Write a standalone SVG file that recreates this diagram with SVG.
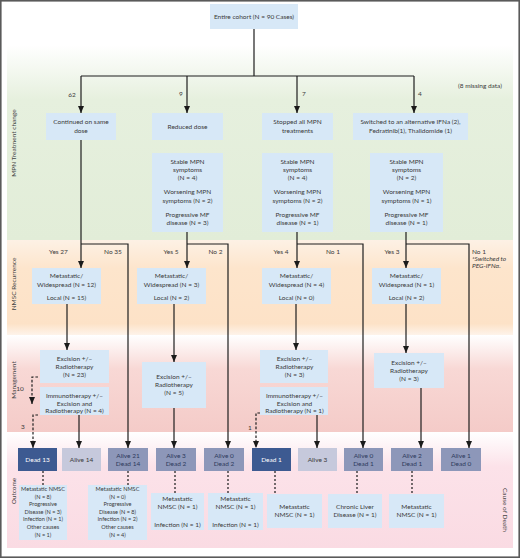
<svg xmlns="http://www.w3.org/2000/svg" width="520" height="558" viewBox="0 0 520 558">
<defs>
<style>
.n{fill:#d7e8f7}
.t{font-family:Lato,"Liberation Sans",sans-serif;font-size:6.5px;fill:#3a3a3a;text-anchor:middle}
.s{font-size:5.6px}
.w{fill:#ffffff}
.k{fill:#2e3a5c}
.lb{font-family:Lato,"Liberation Sans",sans-serif;font-size:6.5px;fill:#444;text-anchor:middle}
.l{fill:none;stroke:#1e1e1e;stroke-width:1.2}
.a{marker-end:url(#ar)}
.d{stroke-dasharray:2.6 1.8}
.o{fill:none;stroke:#2a2a2a;stroke-width:1.3;stroke-dasharray:2 2}
.dk{fill:#3d5a91}
.lt{fill:#c6c9dc}
.md{fill:#8d97b9}
</style>
<marker id="ar" viewBox="0 0 7 6" refX="7" refY="3" markerWidth="7" markerHeight="6" orient="auto" markerUnits="userSpaceOnUse"><path d="M0,0 L7,3 L0,6 z" fill="#1a1a1a"/></marker>
<linearGradient id="gG" x1="0" y1="0" x2="0" y2="1"><stop offset="0" stop-color="#ffffff"/><stop offset="0.28" stop-color="#e6f0de"/><stop offset="1" stop-color="#e2edd8"/></linearGradient>
<linearGradient id="gO" x1="0" y1="0" x2="0" y2="1"><stop offset="0" stop-color="#fdf1e5"/><stop offset="0.3" stop-color="#fde5cc"/><stop offset="0.88" stop-color="#fde2c7"/><stop offset="1" stop-color="#fef3ea"/></linearGradient>
<linearGradient id="gM" x1="0" y1="0" x2="0" y2="1"><stop offset="0" stop-color="#ffffff"/><stop offset="0.35" stop-color="#f8d8d5"/><stop offset="1" stop-color="#f4cbc8"/></linearGradient>
<linearGradient id="gC" x1="0" y1="0" x2="0" y2="1"><stop offset="0" stop-color="#ffffff"/><stop offset="0.3" stop-color="#fce2e9"/><stop offset="1" stop-color="#fadbe3"/></linearGradient>
</defs>
<rect x="0" y="0" width="520" height="558" fill="#ffffff"/>
<g id="bands">
<rect x="7" y="45" width="506" height="195" fill="url(#gG)"/>
<rect x="7" y="240" width="506" height="95" fill="url(#gO)"/>
<rect x="7" y="335" width="506" height="97" fill="url(#gM)"/>
<rect x="7" y="432" width="506" height="116" fill="url(#gC)"/>
<rect x="0.8" y="0.8" width="518.4" height="556.4" fill="none" stroke="#5a5a5a" stroke-width="1.6"/>
</g>
<g id="side-labels">
<text class="lb" transform="translate(15.5,143) rotate(-90)">MPN Treatment change</text>
<text class="lb" transform="translate(15.5,284) rotate(-90)">NMSC Recurrence</text>
<text class="lb" transform="translate(15.5,380) rotate(-90)">Management</text>
<text class="lb" transform="translate(15.5,491) rotate(-90)">Outcome</text>
<text class="lb" transform="translate(502.5,510) rotate(90)">Cause of Death</text>
</g>
<g id="connectors">
<path class="l" d="M254,29 V76 M81,76 H414"/>
<path class="l a" d="M81,76 V113"/>
<path class="l a" d="M187,76 V113"/>
<path class="l a" d="M297,76 V113"/>
<path class="l a" d="M414,76 V113"/>
<path class="l a" d="M81,140 V268"/>
<path class="l a" d="M81,244 H128 V448"/>
<path class="l a" d="M187,232 V268"/>
<path class="l a" d="M187,244 H228 V448"/>
<path class="l a" d="M297,232 V268"/>
<path class="l a" d="M297,244 H363 V448"/>
<path class="l a" d="M406,232 V268"/>
<path class="l a" d="M406,244 H469 V448"/>
<path class="l a" d="M67,304 V350"/>
<path class="l a" d="M174,304 V362"/>
<path class="l a" d="M296,304 V350"/>
<path class="l a" d="M406,304 V353"/>
<path class="l a" d="M79,415 V448"/>
<path class="l a" d="M174,408 V448"/>
<path class="l a" d="M317,415 V448"/>
<path class="l a" d="M421,388 V448"/>
<path class="l a d" d="M38,377 H32 V404"/>
<path class="l a d" d="M38,415 H33 V448"/>
<path class="l a d" d="M260,413 H256 V448"/>
<path class="o" d="M43,471 V485 M128,471 V485 M175,471 V493 M228,471 V493 M275,471 V494 M357,471 V494 M412,471 V494"/>
<text class="t" x="72" y="97">62</text>
<text class="t" x="181" y="96">9</text>
<text class="t" x="304" y="96">7</text>
<text class="t" x="420" y="96">4</text>
<text class="t" x="480" y="88">(8 missing data)</text>
<text class="t" x="58.5" y="254">Yes 27</text>
<text class="t" x="113" y="254">No 35</text>
<text class="t" x="171" y="254">Yes 5</text>
<text class="t" x="215.5" y="254">No 2</text>
<text class="t" x="281" y="254">Yes 4</text>
<text class="t" x="333" y="254">No 1</text>
<text class="t" x="392" y="254">Yes 3</text>
<text class="t" x="472" y="254" style="text-anchor:start">No 1</text>
<text class="t" x="472" y="261" style="text-anchor:start;font-style:italic">*Switched to</text>
<text class="t" x="472" y="268" style="text-anchor:start;font-style:italic">PEG-IFNα.</text>
<text class="t" x="20" y="391">10</text>
<text class="t" x="23" y="428.5">3</text>
<text class="t" x="250" y="430">1</text>
</g>
<g id="cohort"><rect class="n" x="210" y="4" width="88" height="25"/><text class="t" x="254" y="19">Entire cohort (N = 90 Cases)</text></g>
<g id="continued"><rect class="n" x="46" y="113" width="70" height="27"/><text class="t" x="81" y="124">Continued on same</text><text class="t" x="81" y="132.5">dose</text></g>
<g id="reduced"><rect class="n" x="152" y="113" width="71" height="27"/><text class="t" x="187.5" y="129">Reduced dose</text></g>
<g id="stopped"><rect class="n" x="262" y="113" width="71" height="27"/><text class="t" x="297.5" y="124">Stopped all MPN</text><text class="t" x="297.5" y="132.5">treatments</text></g>
<g id="switched"><rect class="n" x="353" y="113" width="115" height="27"/><text class="t" x="410.5" y="124">Switched to an alternative IFNa (2),</text><text class="t" x="410.5" y="132.5">Fedratinib(1), Thalidomide (1)</text></g>
<g id="reduced-status"><rect class="n" x="152" y="153" width="71" height="79"/>
<text class="t" x="187.5" y="164">Stable MPN</text><text class="t" x="187.5" y="172">symptoms</text><text class="t" x="187.5" y="180">(N = 4)</text>
<text class="t" x="187.5" y="194">Worsening MPN</text><text class="t" x="187.5" y="202.5">symptoms (N = 2)</text>
<text class="t" x="187.5" y="216.5">Progressive MF</text><text class="t" x="187.5" y="225">disease (N = 3)</text></g>
<g id="stopped-status"><rect class="n" x="262" y="153" width="71" height="79"/>
<text class="t" x="297.5" y="164">Stable MPN</text><text class="t" x="297.5" y="172">symptoms</text><text class="t" x="297.5" y="180">(N = 4)</text>
<text class="t" x="297.5" y="194">Worsening MPN</text><text class="t" x="297.5" y="202.5">symptoms (N = 2)</text>
<text class="t" x="297.5" y="216.5">Progressive MF</text><text class="t" x="297.5" y="225">disease (N = 1)</text></g>
<g id="switched-status"><rect class="n" x="370" y="153" width="73" height="79"/>
<text class="t" x="406.5" y="164">Stable MPN</text><text class="t" x="406.5" y="172">symptoms</text><text class="t" x="406.5" y="180">(N = 2)</text>
<text class="t" x="406.5" y="194">Worsening MPN</text><text class="t" x="406.5" y="202.5">symptoms (N = 1)</text>
<text class="t" x="406.5" y="216.5">Progressive MF</text><text class="t" x="406.5" y="225">disease (N = 1)</text></g>
<g id="nmsc1"><rect class="n" x="32" y="268" width="69" height="36"/><text class="t" x="66.5" y="278">Metastatic/</text><text class="t" x="66.5" y="287">Widespread (N = 12)</text><text class="t" x="66.5" y="300">Local (N = 15)</text></g>
<g id="nmsc2"><rect class="n" x="137" y="268" width="69" height="36"/><text class="t" x="171.5" y="278">Metastatic/</text><text class="t" x="171.5" y="287">Widespread (N = 3)</text><text class="t" x="171.5" y="300">Local (N = 2)</text></g>
<g id="nmsc3"><rect class="n" x="262" y="268" width="69" height="36"/><text class="t" x="296.5" y="278">Metastatic/</text><text class="t" x="296.5" y="287">Widespread (N = 4)</text><text class="t" x="296.5" y="300">Local (N = 0)</text></g>
<g id="nmsc4"><rect class="n" x="372" y="268" width="69" height="36"/><text class="t" x="406.5" y="278">Metastatic/</text><text class="t" x="406.5" y="287">Widespread (N = 1)</text><text class="t" x="406.5" y="300">Local (N = 2)</text></g>
<g id="exc1"><rect class="n" x="40" y="350" width="69" height="33"/><text class="t" x="74.5" y="361">Excision +/–</text><text class="t" x="74.5" y="369">Radiotherapy</text><text class="t" x="74.5" y="377">(N = 23)</text></g>
<g id="imm1"><rect class="n" x="40" y="387" width="69" height="28"/><text class="t" x="74.5" y="398">Immunotherapy +/–</text><text class="t" x="74.5" y="405.5">Excision and</text><text class="t" x="74.5" y="413">Radiotherapy (N = 4)</text></g>
<g id="exc2"><rect class="n" x="142" y="362" width="64" height="46"/><text class="t" x="174" y="379">Excision +/–</text><text class="t" x="174" y="387">Radiotherapy</text><text class="t" x="174" y="395">(N = 5)</text></g>
<g id="exc3"><rect class="n" x="260" y="350" width="68" height="33"/><text class="t" x="294.5" y="361">Excision +/–</text><text class="t" x="294.5" y="369">Radiotherapy</text><text class="t" x="294.5" y="377">(N = 3)</text></g>
<g id="imm3"><rect class="n" x="260" y="387" width="68" height="28"/><text class="t" x="294.5" y="398">Immunotherapy +/–</text><text class="t" x="294.5" y="405.5">Excision and</text><text class="t" x="294.5" y="413">Radiotherapy (N = 1)</text></g>
<g id="exc4"><rect class="n" x="374" y="353" width="70" height="35"/><text class="t" x="409" y="365">Excision +/–</text><text class="t" x="409" y="372.5">Radiotherapy</text><text class="t" x="409" y="380.5">(N = 3)</text></g>
<g id="o1"><rect class="dk" x="18" y="448" width="39" height="23"/><text class="t w" x="37.5" y="461.5">Dead 13</text></g>
<g id="o2"><rect class="lt" x="62" y="448" width="39" height="23"/><text class="t" x="81.5" y="461.5">Alive 14</text></g>
<g id="o3"><rect class="md" x="108" y="448" width="40" height="23"/><text class="t k" x="128" y="457.5">Alive 21</text><text class="t k" x="128" y="465.5">Dead 14</text></g>
<g id="o4"><rect class="md" x="156" y="448" width="40" height="23"/><text class="t k" x="176" y="457.5">Alive 3</text><text class="t k" x="176" y="465.5">Dead 2</text></g>
<g id="o5"><rect class="md" x="204" y="448" width="40" height="23"/><text class="t k" x="224" y="457.5">Alive 0</text><text class="t k" x="224" y="465.5">Dead 2</text></g>
<g id="o6"><rect class="dk" x="252" y="448" width="39" height="23"/><text class="t w" x="271.5" y="461.5">Dead 1</text></g>
<g id="o7"><rect class="lt" x="298" y="448" width="39" height="23"/><text class="t" x="317.5" y="461.5">Alive 3</text></g>
<g id="o8"><rect class="md" x="344" y="448" width="39" height="23"/><text class="t k" x="363.5" y="457.5">Alive 0</text><text class="t k" x="363.5" y="465.5">Dead 1</text></g>
<g id="o9"><rect class="md" x="391" y="448" width="42" height="23"/><text class="t k" x="412" y="457.5">Alive 2</text><text class="t k" x="412" y="465.5">Dead 1</text></g>
<g id="o10"><rect class="md" x="441" y="448" width="40" height="23"/><text class="t k" x="461" y="457.5">Alive 1</text><text class="t k" x="461" y="465.5">Dead 0</text></g>
<g id="c1"><rect class="n" x="19" y="485" width="48" height="55"/>
<text class="t s" x="43" y="491">Metastatic NMSC</text><text class="t s" x="43" y="498.5">(N = 8)</text><text class="t s" x="43" y="506">Progressive</text><text class="t s" x="43" y="513.5">Disease (N = 3)</text><text class="t s" x="43" y="521">Infection (N = 1)</text><text class="t s" x="43" y="529">Other causes</text><text class="t s" x="43" y="537">(N = 1)</text></g>
<g id="c2"><rect class="n" x="88" y="485" width="59" height="55"/>
<text class="t s" x="117.5" y="491">Metastatic NMSC</text><text class="t s" x="117.5" y="498.5">(N = 0)</text><text class="t s" x="117.5" y="506">Progressive</text><text class="t s" x="117.5" y="513.5">Disease (N = 8)</text><text class="t s" x="117.5" y="521">Infection (N = 2)</text><text class="t s" x="117.5" y="529">Other causes</text><text class="t s" x="117.5" y="537">(N = 4)</text></g>
<g id="c3"><rect class="n" x="151" y="493" width="53" height="37"/><text class="t" x="177.5" y="501">Metastatic</text><text class="t" x="177.5" y="509">NMSC (N = 1)</text><text class="t" x="177.5" y="527">Infection (N = 1)</text></g>
<g id="c4"><rect class="n" x="208" y="493" width="55" height="37"/><text class="t" x="235.5" y="501">Metastatic</text><text class="t" x="235.5" y="509">NMSC (N = 1)</text><text class="t" x="235.5" y="527">Infection (N = 1)</text></g>
<g id="c5"><rect class="n" x="267" y="494" width="55" height="34"/><text class="t" x="294.5" y="509">Metastatic</text><text class="t" x="294.5" y="517">NMSC (N = 1)</text></g>
<g id="c6"><rect class="n" x="328" y="494" width="54" height="34"/><text class="t" x="355" y="509">Chronic Liver</text><text class="t" x="355" y="517">Disease (N = 1)</text></g>
<g id="c7"><rect class="n" x="389" y="494" width="55" height="34"/><text class="t" x="416.5" y="509">Metastatic</text><text class="t" x="416.5" y="517">NMSC (N = 1)</text></g>
</svg>
